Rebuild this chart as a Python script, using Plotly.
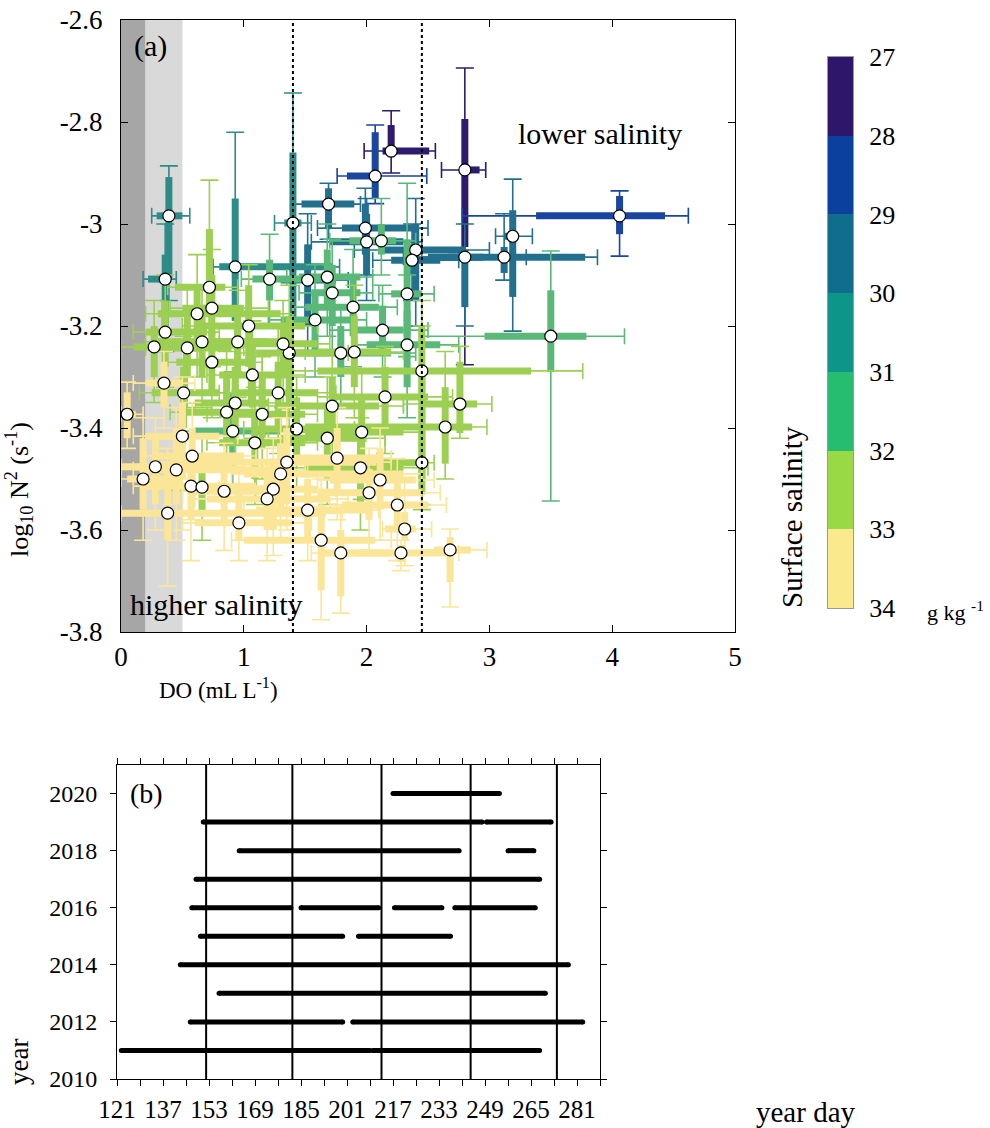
import plotly.graph_objects as go

# ---------------- Panel (a) data ----------------
do_med = [2.20, 2.07, 2.80, 4.06, 3.19, 3.12, 2.80, 3.50, 0.39, 1.40,
          1.69, 0.93, 1.21, 0.36, 0.72, 2.12, 2.33, 1.72, 1.52, 1.99,
          2.40, 2.37, 1.89, 0.62, 0.36, 1.04, 2.13, 0.74, 0.66, 1.37,
          1.32, 0.27, 0.54, 0.95, 0.35, 0.51, 1.28, 0.93, 1.07, 0.74,
          2.00, 1.68, 1.58, 2.33, 1.79, 1.90, 2.45, 2.15, 1.72, 2.76,
          2.64, 2.45, 0.05, 0.86, 1.15, 0.91, 0.50, 1.43, 1.09, 0.58,
          0.28, 0.45, 1.35, 0.18, 1.30, 0.57, 0.66, 0.84, 1.24, 1.19,
          0.38, 0.96, 1.52, 1.96, 1.68, 1.76, 1.95, 2.11, 2.02, 2.25,
          2.31, 1.63, 1.79, 2.28, 2.68]
n2_med = [-2.857, -2.906, -2.894, -2.984, -3.024, -3.065, -3.065, -3.220, -2.984, -2.998,
          -2.961, -3.084, -3.108, -3.108, -3.124, -3.033, -3.137, -3.135, -3.110, -3.008,
          -3.051, -3.071, -3.163, -3.176, -3.212, -3.200, -3.208, -3.165, -3.231, -3.253,
          -3.235, -3.241, -3.243, -3.231, -3.312, -3.331, -3.331, -3.351, -3.296, -3.271,
          -3.035, -3.104, -3.188, -3.237, -3.253, -3.251, -3.288, -3.339, -3.357, -3.353,
          -3.398, -3.468, -3.373, -3.369, -3.373, -3.406, -3.416, -3.402, -3.429, -3.455,
          -3.476, -3.482, -3.467, -3.500, -3.490, -3.514, -3.516, -3.524, -3.520, -3.539,
          -3.567, -3.586, -3.561, -3.408, -3.420, -3.459, -3.478, -3.502, -3.527, -3.551,
          -3.598, -3.620, -3.645, -3.645, -3.639]
sal = [27.4, 28.3, 27.2, 28.6, 29.3, 29.5, 29.4, 31.3, 30.4, 30.3,
       29.4, 30.3, 31.2, 30.5, 32.3, 31.3, 31.4, 31.2, 29.6, 29.5,
       29.3, 29.4, 31.6, 32.4, 32.5, 32.2, 31.5, 32.3, 32.4, 32.3,
       32.2, 32.6, 32.5, 32.1, 33.3, 32.6, 32.4, 32.5, 32.3, 32.5,
       29.7, 31.4, 31.6, 31.7, 31.5, 32.2, 32.3, 32.4, 32.3, 32.5,
       32.4, 32.2, 33.5, 32.3, 32.4, 31.7, 33.4, 32.5, 32.6, 33.4,
       33.5, 33.4, 33.3, 33.6, 33.4, 33.3, 32.5, 33.3, 33.2, 33.4,
       33.6, 33.3, 33.5, 32.4, 32.5, 33.4, 32.3, 33.3, 33.4, 33.3,
       33.4, 33.4, 33.5, 33.4, 33.5]
# DO interquartile range (thick bars) and 10-90 % range (thin whiskers)
do_q1 = [2.13, 1.84, 2.77, 3.38, 3.12, 2.66, 2.50, 2.96, 0.29, 1.33,
         1.47, 0.80, 1.07, 0.22, 0.44, 1.86, 2.20, 1.55, 1.30, 1.80,
         2.10, 2.20, 1.50, 0.30, 0.20, 0.60, 1.90, 0.50, 0.30, 1.10,
         0.90, 0.10, 0.30, 0.70, 0.20, 0.25, 0.90, 0.60, 0.80, 0.45,
         1.70, 1.45, 1.30, 2.00, 1.40, 1.60, 1.60, 1.70, 1.30, 2.45,
         1.50, 1.60, 0.00, 0.50, 0.80, 0.60, 0.20, 1.10, 0.80, 0.30,
         0.00, 0.20, 0.40, 0.05, 1.00, 0.20, 0.40, 0.60, 0.90, 0.70,
         0.00, 0.60, 1.10, 1.50, 1.30, 1.40, 1.50, 1.70, 1.60, 1.80,
         2.15, 1.00, 1.65, 1.90, 2.55]
do_q3 = [2.51, 2.12, 2.92, 4.43, 3.23, 3.78, 2.95, 3.79, 0.50, 1.47,
         1.90, 1.72, 1.64, 0.38, 0.85, 2.24, 2.45, 1.95, 1.75, 2.40,
         2.80, 2.60, 2.10, 1.30, 0.70, 1.50, 2.30, 1.00, 1.20, 1.70,
         1.60, 0.60, 0.90, 1.30, 0.50, 0.80, 1.60, 1.20, 1.40, 1.05,
         2.30, 1.95, 1.90, 2.60, 2.20, 2.20, 3.34, 2.50, 2.10, 2.90,
         2.86, 2.50, 0.12, 1.20, 1.50, 1.30, 0.80, 1.75, 1.50, 1.00,
         0.90, 1.40, 2.08, 0.50, 2.30, 1.10, 1.00, 1.20, 1.60, 1.70,
         1.67, 1.40, 2.00, 2.30, 2.00, 2.10, 2.30, 2.40, 2.45, 2.50,
         2.40, 2.07, 2.20, 2.65, 2.85]
do_p10 = [1.98, 1.76, 2.61, 2.78, 3.05, 2.45, 2.30, 2.43, 0.25, 1.25,
          1.40, 0.75, 0.98, 0.18, 0.38, 1.70, 2.10, 1.45, 1.20, 1.60,
          1.90, 2.05, 1.40, 0.20, 0.10, 0.50, 1.70, 0.40, 0.20, 0.95,
          0.80, 0.00, 0.20, 0.60, 0.10, 0.15, 0.80, 0.50, 0.70, 0.35,
          1.55, 1.35, 1.20, 1.90, 1.30, 1.50, 1.40, 1.60, 1.20, 2.30,
          1.40, 1.50, 0.00, 0.40, 0.70, 0.50, 0.10, 1.00, 0.70, 0.20,
          0.00, 0.10, 0.30, 0.00, 0.90, 0.10, 0.30, 0.50, 0.80, 0.60,
          0.00, 0.50, 1.00, 1.40, 1.20, 1.30, 1.40, 1.60, 1.50, 1.70,
          2.13, 0.90, 1.55, 1.80, 2.45]
do_p90 = [2.56, 2.49, 2.97, 4.62, 3.35, 3.88, 3.30, 4.10, 0.56, 1.55,
          1.95, 1.78, 1.72, 0.45, 0.95, 2.40, 2.55, 2.05, 1.85, 2.50,
          3.00, 2.75, 2.25, 1.40, 0.80, 1.60, 2.50, 1.20, 1.40, 1.85,
          1.70, 0.75, 1.00, 1.40, 0.60, 0.95, 1.75, 1.35, 1.50, 1.15,
          2.45, 2.05, 2.00, 2.75, 2.40, 2.30, 3.76, 2.70, 2.30, 3.02,
          2.98, 2.55, 0.18, 1.35, 1.60, 1.45, 0.95, 1.90, 1.60, 1.10,
          1.00, 1.50, 2.20, 0.60, 2.45, 1.20, 1.10, 1.30, 1.75, 1.85,
          1.80, 1.55, 2.10, 2.45, 2.15, 2.20, 2.50, 2.55, 2.60, 2.65,
          2.53, 2.20, 2.30, 2.75, 2.98]
# log10 N2 interquartile range (thick) and 10-90 % range (thin)
n2_q1 = [-2.869, -2.950, -3.045, -3.020, -3.143, -3.096, -3.163, -3.290, -3.106, -3.190,
         -3.010, -3.190, -3.150, -3.200, -3.175, -3.060, -3.220, -3.200, -3.200, -3.060,
         -3.150, -3.100, -3.220, -3.250, -3.280, -3.280, -3.250, -3.220, -3.300, -3.350,
         -3.300, -3.300, -3.300, -3.290, -3.360, -3.400, -3.400, -3.420, -3.360, -3.330,
         -3.100, -3.160, -3.250, -3.320, -3.300, -3.320, -3.500, -3.400, -3.420, -3.410,
         -3.470, -3.530, -3.420, -3.430, -3.440, -3.470, -3.500, -3.470, -3.500, -3.520,
         -3.550, -3.550, -3.550, -3.560, -3.560, -3.580, -3.570, -3.580, -3.600, -3.600,
         -3.620, -3.620, -3.620, -3.480, -3.500, -3.520, -3.550, -3.560, -3.580, -3.600,
         -3.620, -3.718, -3.730, -3.663, -3.702]
n2_q3 = [-2.806, -2.820, -2.794, -2.945, -2.973, -3.045, -3.050, -3.130, -2.908, -2.860,
         -2.930, -2.950, -3.070, -3.060, -3.010, -3.000, -3.030, -3.080, -3.040, -2.960,
         -3.000, -3.040, -3.100, -3.120, -3.150, -3.120, -3.160, -3.100, -3.170, -3.180,
         -3.200, -3.200, -3.180, -3.180, -3.270, -3.280, -3.270, -3.280, -3.240, -3.210,
         -2.980, -3.050, -3.130, -3.170, -3.200, -3.180, -3.200, -3.280, -3.300, -3.270,
         -3.320, -3.280, -3.330, -3.300, -3.300, -3.330, -3.350, -3.340, -3.370, -3.400,
         -3.420, -3.400, -3.400, -3.420, -3.430, -3.460, -3.460, -3.470, -3.460, -3.480,
         -3.480, -3.520, -3.500, -3.340, -3.350, -3.400, -3.420, -3.440, -3.480, -3.500,
         -3.565, -3.550, -3.600, -3.630, -3.614]
n2_p10 = [-2.900, -2.960, -3.276, -3.063, -3.210, -3.110, -3.200, -3.543, -3.150, -3.250,
          -3.030, -3.230, -3.200, -3.250, -3.200, -3.100, -3.260, -3.250, -3.250, -3.100,
          -3.200, -3.150, -3.280, -3.300, -3.320, -3.350, -3.300, -3.280, -3.360, -3.400,
          -3.360, -3.350, -3.360, -3.340, -3.400, -3.450, -3.450, -3.480, -3.420, -3.380,
          -3.150, -3.220, -3.300, -3.380, -3.360, -3.380, -3.550, -3.450, -3.480, -3.420,
          -3.500, -3.560, -3.440, -3.480, -3.500, -3.520, -3.600, -3.520, -3.550, -3.580,
          -3.600, -3.620, -3.600, -3.620, -3.620, -3.660, -3.620, -3.640, -3.650, -3.660,
          -3.710, -3.660, -3.660, -3.540, -3.550, -3.580, -3.600, -3.620, -3.640, -3.660,
          -3.670, -3.776, -3.763, -3.680, -3.751]
n2_p90 = [-2.778, -2.806, -2.694, -2.935, -2.912, -2.980, -3.000, -3.053, -2.886, -2.743,
          -2.920, -2.820, -3.020, -3.000, -2.914, -2.950, -2.920, -3.030, -2.980, -2.930,
          -2.950, -3.000, -3.050, -3.060, -3.100, -3.080, -3.120, -3.050, -3.120, -3.120,
          -3.150, -3.150, -3.120, -3.130, -3.250, -3.220, -3.200, -3.230, -3.190, -3.160,
          -2.950, -3.000, -3.080, -3.100, -3.160, -3.120, -3.150, -3.240, -3.250, -3.240,
          -3.250, -3.200, -3.310, -3.250, -3.260, -3.290, -3.300, -3.300, -3.320, -3.350,
          -3.380, -3.360, -3.360, -3.380, -3.380, -3.420, -3.420, -3.430, -3.420, -3.440,
          -3.440, -3.480, -3.460, -3.290, -3.300, -3.360, -3.380, -3.400, -3.440, -3.460,
          -3.500, -3.500, -3.550, -3.620, -3.598]

sal_bounds = [27, 28, 29, 30, 31, 32, 33, 34]
sal_colors = ["#2E166B", "#0C409F", "#0F6E8C", "#0E9589", "#27BD70", "#9AD946", "#FBEA8D"]
bar_colors = ["#2E1A6E", "#1A46A0", "#22708E", "#2D8C87", "#5AB978", "#9CCF52", "#FAE696"]
do_lowO2_dark = [0.0, 0.2]
do_lowO2_light = [0.2, 0.5]
do_ref_lines = [1.4, 2.45]

# ---------------- Panel (b) data ----------------
seg_year = [2020, 2019, 2019, 2018, 2018, 2017, 2016, 2016, 2016, 2016,
            2015, 2015, 2014, 2013, 2012, 2012, 2011, 2011]
seg_start = [217, 151, 249.5, 163.5, 257, 148.5, 147, 185, 217.5, 238.5,
             150, 205, 143, 156.5, 146.5, 203, 122.5, 210]
seg_end = [254, 248, 272, 240, 266, 268, 181.5, 212, 234, 266.5,
           199.5, 237, 278, 270, 199.5, 283, 209, 268]
month_days = [152, 182, 213, 244, 274]
day_ticks = list(range(121, 290, 8))
year_ticks = [2010, 2012, 2014, 2016, 2018, 2020]

W, H = 990, 1128
FONT = "Liberation Serif, Times New Roman, Times, serif"

fig = go.Figure()

# --- panel (a) error bars, grouped by salinity class ---
n = len(do_med)
for k in range(len(sal_bounds) - 1):
    lo, hi = sal_bounds[k], sal_bounds[k + 1]
    idx = [i for i in range(n) if lo <= sal[i] < hi]
    if not idx:
        continue
    xs = [do_med[i] for i in idx]
    ys = [n2_med[i] for i in idx]
    col = bar_colors[k]
    fig.add_trace(go.Scatter(
        x=xs, y=ys, mode="markers", marker=dict(size=2, color="rgba(0,0,0,0)"),
        error_x=dict(type="data", symmetric=False,
                     array=[do_p90[i] - do_med[i] for i in idx],
                     arrayminus=[do_med[i] - do_p10[i] for i in idx],
                     color=col, thickness=1.6, width=8),
        error_y=dict(type="data", symmetric=False,
                     array=[n2_p90[i] - n2_med[i] for i in idx],
                     arrayminus=[n2_med[i] - n2_p10[i] for i in idx],
                     color=col, thickness=1.6, width=9),
        hoverinfo="skip", showlegend=False, xaxis="x", yaxis="y"))
    fig.add_trace(go.Scatter(
        x=xs, y=ys, mode="markers", marker=dict(size=2, color="rgba(0,0,0,0)"),
        error_x=dict(type="data", symmetric=False,
                     array=[do_q3[i] - do_med[i] for i in idx],
                     arrayminus=[do_med[i] - do_q1[i] for i in idx],
                     color=col, thickness=7, width=0),
        error_y=dict(type="data", symmetric=False,
                     array=[n2_q3[i] - n2_med[i] for i in idx],
                     arrayminus=[n2_med[i] - n2_q1[i] for i in idx],
                     color=col, thickness=7, width=0),
        hoverinfo="skip", showlegend=False, xaxis="x", yaxis="y"))

fig.add_trace(go.Scatter(
    x=do_med, y=n2_med, mode="markers",
    marker=dict(size=12, color="white", line=dict(color="black", width=1.2)),
    showlegend=False, xaxis="x", yaxis="y"))

# --- colour bar drawn as a heatmap ---
mids = [(sal_bounds[i] + sal_bounds[i + 1]) / 2 for i in range(len(sal_colors))]
cs = []
for i, c in enumerate(sal_colors):
    cs.append([i / len(sal_colors), c])
    cs.append([(i + 1) / len(sal_colors), c])
fig.add_trace(go.Heatmap(
    x=[0], y=mids, z=[[m] for m in mids], colorscale=cs,
    zmin=sal_bounds[0], zmax=sal_bounds[-1], showscale=False,
    hoverinfo="skip", xaxis="x3", yaxis="y3"))

# --- panel (b) segments ---
bx, by = [], []
for yr, s, e in zip(seg_year, seg_start, seg_end):
    bx += [s, e, None]
    by += [yr, yr, None]
fig.add_trace(go.Scatter(
    x=bx, y=by, mode="lines+markers",
    line=dict(color="black", width=5),
    marker=dict(size=5, color="black"),
    showlegend=False, xaxis="x2", yaxis="y2", hoverinfo="skip"))

shapes = []
shapes.append(dict(type="rect", xref="x", yref="y domain", x0=do_lowO2_dark[0], x1=do_lowO2_dark[1],
                   y0=0, y1=1, fillcolor="#A6A6A6", line=dict(width=0), layer="below"))
shapes.append(dict(type="rect", xref="x", yref="y domain", x0=do_lowO2_light[0], x1=do_lowO2_light[1],
                   y0=0, y1=1, fillcolor="#D9D9D9", line=dict(width=0), layer="below"))
for xv in do_ref_lines:
    shapes.append(dict(type="line", xref="x", yref="y domain", x0=xv, x1=xv, y0=0, y1=1,
                       line=dict(color="black", width=2, dash="dot"), layer="above"))
for d in month_days:
    shapes.append(dict(type="line", xref="x2", yref="y2 domain", x0=d, x1=d, y0=0, y1=1,
                       line=dict(color="black", width=2), layer="above"))


def px(x):
    return x / W


def py(y):
    return 1 - y / H


def f(size):
    return dict(family=FONT, size=size, color="black")


def note(text, x, y, size, angle=0, xanchor="center"):
    return dict(text=text, x=px(x), y=py(y), xref="paper", yref="paper", xanchor=xanchor,
                yanchor="middle", textangle=angle, showarrow=False, font=f(size))


ann = [
    note("(a)", 150, 46, 30),
    note("lower salinity", 600, 133, 30),
    note("higher salinity", 216, 604, 30),
    note("log<sub>10</sub> N<sup>2</sup> (s<sup>-1</sup>)", 19, 490, 26, -90),
    note("DO (mL L<sup>-1</sup>)", 218, 688, 23),
    note("Surface salinity", 792, 517, 29, -90),
    note("g kg <sup>-1</sup>", 955, 611, 22),
    note("(b)", 146, 793, 28),
    note("year", 19, 1062, 27, -90),
    note("year day", 806, 1112, 29),
]

axis_common = dict(showline=True, linecolor="black", linewidth=1, mirror="allticks",
                   showgrid=False, zeroline=False, tickcolor="black", automargin=False)

fig.update_layout(
    width=W, height=H, margin=dict(l=0, r=0, t=0, b=0, autoexpand=False),
    paper_bgcolor="white", plot_bgcolor="white",
    font=dict(family=FONT, color="black"),
    xaxis=dict(domain=[px(121), px(735)], range=[0, 5], tickvals=[0, 1, 2, 3, 4, 5],
               ticks="inside", ticklen=7, ticklabelstandoff=1, anchor="y",
               tickfont=f(27), **axis_common),
    yaxis=dict(domain=[py(632), py(20)], range=[-3.8, -2.6],
               tickvals=[-3.8, -3.6, -3.4, -3.2, -3.0, -2.8, -2.6],
               ticktext=["-3.8", "-3.6", "-3.4", "-3.2", "-3", "-2.8", "-2.6"],
               ticks="inside", ticklen=7, ticklabelstandoff=12, anchor="x",
               tickfont=f(27), **axis_common),
    xaxis2=dict(domain=[px(117), px(600)], range=[121, 289], tickvals=day_ticks,
                ticktext=[str(d) if (d - 121) % 16 == 0 else "" for d in day_ticks],
                ticks="outside", ticklen=6, ticklabelstandoff=2, anchor="y2",
                tickfont=f(25), **axis_common),
    yaxis2=dict(domain=[py(1079), py(765)], range=[2010, 2021], tickvals=year_ticks,
                ticks="outside", ticklen=6, ticklabelstandoff=8, anchor="x2",
                tickfont=f(24), **axis_common),
    xaxis3=dict(domain=[px(828), px(853)], range=[-0.5, 0.5], showticklabels=False, ticks="",
                showline=True, linecolor="#999999", mirror=True, showgrid=False, zeroline=False,
                anchor="y3", automargin=False),
    yaxis3=dict(domain=[py(608), py(57)], range=[34, 27], tickvals=sal_bounds, side="right",
                ticks="", ticklabelstandoff=10, showline=True, linecolor="#999999", mirror=True,
                showgrid=False, zeroline=False, anchor="x3", automargin=False,
                tickfont=f(26)),
    shapes=shapes, annotations=ann,
)

fig.write_html("out.html")
